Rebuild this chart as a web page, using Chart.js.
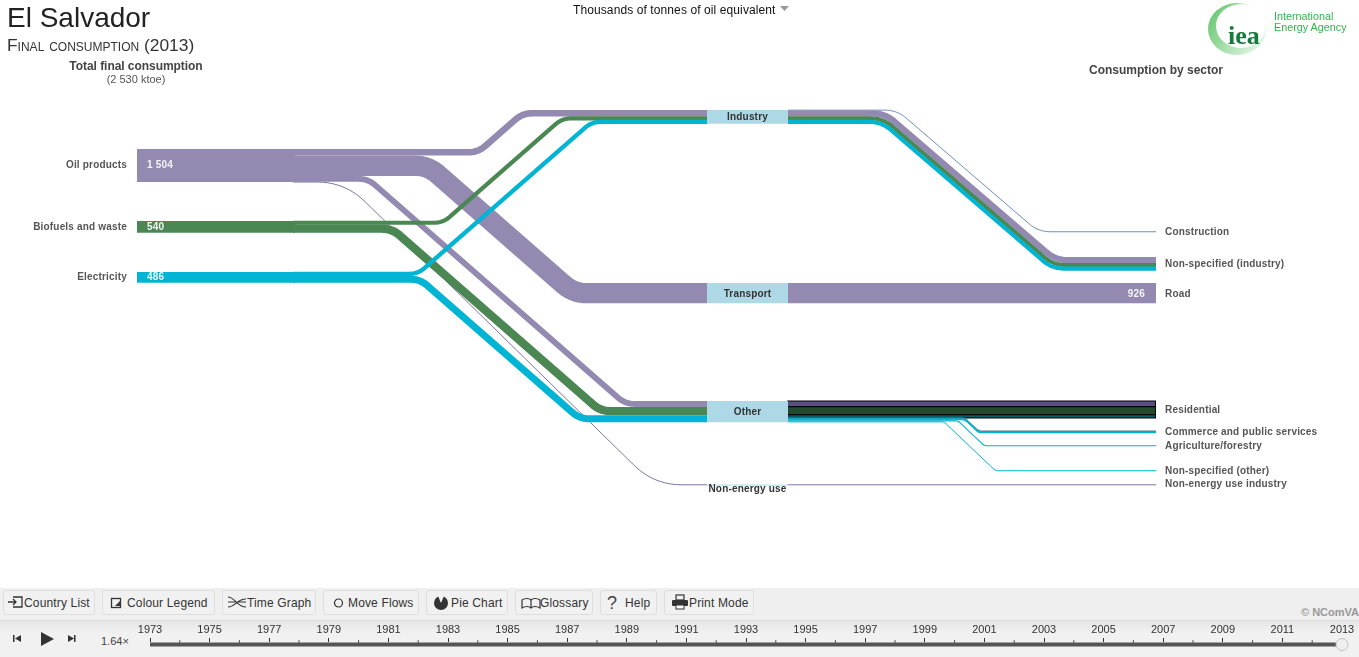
<!DOCTYPE html>
<html>
<head>
<meta charset="utf-8">
<title>El Salvador - Final consumption (2013)</title>
<script src="https://cdn.jsdelivr.net/npm/chart.js@4/dist/chart.umd.js"></script>
<style>
html, body { margin: 0; padding: 0; background: #fff; overflow: hidden; }
body { width: 1359px; height: 657px; position: relative; font-family: "Liberation Sans", Arial, sans-serif; }
.t { position: absolute; white-space: nowrap; }
canvas { position: absolute; left: 0; }
#bar { position: absolute; left: 0; top: 588px; width: 1359px; height: 69px; background: #efefef; }
#strip { position: absolute; left: 0; top: 620px; width: 1359px; height: 37px; background: linear-gradient(#e6e6e6, #f1f1f1 12px); border-top: 1px solid #dcdcdc; box-sizing: border-box; }
.btn { position: absolute; top: 590px; height: 25px; line-height: 25px; box-sizing: border-box; background: #f1f1f1; border: 1px solid #dedede; border-radius: 3px; font-size: 12px; letter-spacing: .15px; color: #333; white-space: nowrap; }
.btn svg { position: absolute; top: 3px; }
.btn span { position: absolute; top: 0; }
</style>
</head>
<body>
<canvas id="flows" width="1359" height="657" style="top:0"></canvas>

<div class="t" style="left:7px;top:2px;font-size:28px;color:#222">El Salvador</div>
<div class="t" style="left:7px;top:35px;font-size:17.400px;color:#333;font-variant:small-caps">Final consumption (2013)</div>
<div class="t" style="left:36px;width:200px;text-align:center;top:59px;font-size:12px;font-weight:bold;color:#444;letter-spacing:-.05px">Total final consumption</div>
<div class="t" style="left:36px;width:200px;text-align:center;top:73px;font-size:11px;color:#555">(2 530 ktoe)</div>
<div class="t" style="left:1089px;top:63px;font-size:12px;font-weight:bold;color:#444">Consumption by sector</div>
<div class="t" style="left:573px;top:3px;font-size:12px;color:#111;letter-spacing:.1px">Thousands of tonnes of oil equivalent</div>
<svg style="position:absolute;left:780px;top:6px" width="9" height="5"><path d="M0 0H9L4.500 5Z" fill="#999"/></svg>

<svg style="position:absolute;left:1200px;top:0" width="75" height="60">
  <defs><linearGradient id="g" x1="0" y1="0.2" x2="1" y2="0.8"><stop offset="0" stop-color="#66c76f"/><stop offset="0.6" stop-color="#b5e4b8"/><stop offset="1" stop-color="#eaf8ea"/></linearGradient></defs>
  <ellipse cx="37" cy="29" rx="29" ry="26" fill="url(#g)"/>
  <ellipse cx="41" cy="26" rx="25" ry="22" fill="#fff"/>
  <text x="28" y="44" font-family="Liberation Serif" font-weight="bold" font-size="26" fill="#167a3c">iea</text>
</svg>
<div class="t" style="left:1274px;top:11px;font-size:10.800px;color:#2fb44c;line-height:10.500px">International<br>Energy Agency</div>

<div id="bar"></div>
<div id="strip"></div>
<div class="t" style="left:1301px;top:606px;font-size:11px;font-weight:bold;color:#999">© NComVA</div>

<div class="btn" style="left:3px;width:92px"><svg style="left:3px" width="17" height="17"><path d="M6 3H15V13H6M1 8H9M6 5L9 8L6 11" fill="none" stroke="#333" stroke-width="1.300"/></svg><span style="left:20px">Country List</span></div>
<div class="btn" style="left:102px;width:113px"><svg style="left:7px" width="14" height="17"><rect x="1.500" y="4.500" width="9" height="9" fill="none" stroke="#333" stroke-width="1.300"/><path d="M5 12L10 7V12Z" fill="#333"/></svg><span style="left:24px">Colour Legend</span></div>
<div class="btn" style="left:222px;width:94px"><svg style="left:4px" width="20" height="17"><path d="M1 3C8 3 10 13 19 13M1 13C8 13 10 5 19 5M1 8H19" fill="none" stroke="#333" stroke-width="1.100"/></svg><span style="left:24px">Time Graph</span></div>
<div class="btn" style="left:323px;width:96px"><svg style="left:8px" width="14" height="17"><circle cx="6.500" cy="9" r="4" fill="none" stroke="#333" stroke-width="1.200"/></svg><span style="left:24px">Move Flows</span></div>
<div class="btn" style="left:426px;width:82px"><svg style="left:6px" width="16" height="17"><circle cx="8" cy="9" r="7" fill="#333"/><path d="M8 9L5 2H11Z" fill="#f1f1f1"/></svg><span style="left:24px">Pie Chart</span></div>
<div class="btn" style="left:515px;width:78px"><svg style="left:5px" width="20" height="17"><path d="M1 14V6C4 4 8 4 10 6C12 4 16 4 19 6V14C16 12 12 12 10 14C8 12 4 12 1 14ZM10 6V14" fill="none" stroke="#333" stroke-width="1.200"/></svg><span style="left:24px">Glossary</span></div>
<div class="btn" style="left:600px;width:57px"><span style="left:6px;font-size:18px;color:#444">?</span><span style="left:24px">Help</span></div>
<div class="btn" style="left:664px;width:90px"><svg style="left:6px" width="18" height="17"><rect x="5" y="1" width="8" height="5" fill="none" stroke="#333" stroke-width="1.200"/><rect x="1" y="6" width="16" height="6" rx="1" fill="#333"/><rect x="5" y="11" width="8" height="4" fill="#fff" stroke="#333"/></svg><span style="left:24px">Print Mode</span></div>

<svg style="position:absolute;left:8px;top:631px" width="70" height="16">
  <path d="M5 4V11H6.500V4ZM13 4L7 7.500L13 11Z" fill="#333"/>
  <path d="M33 1L46 8L33 15Z" fill="#333"/>
  <path d="M66 4V11H67.500V4ZM60 4L66 7.500L60 11Z" fill="#333"/>
</svg>
<div class="t" style="left:101px;top:635px;font-size:11px;color:#444">1.64×</div>
<canvas id="slider" width="1359" height="37" style="top:622px"></canvas>

<script>
// values, ktoe
var fuels = ['Oil products', 'Biofuels and waste', 'Electricity'];
var fuelLabels = ['1 504', '540', '486'];
var sectors = ['Industry', 'Transport', 'Other', 'Non-energy use'];
var oilBySector = [300, 926, 270, 8];
var biofuelBySector = [160, 0, 380, 0];
var electricityBySector = [166, 0, 320, 0];

var endUses = ['Construction', 'Non-specified (industry)', 'Road', 'Residential',
  'Commerce and public services', 'Agriculture/forestry', 'Non-specified (other)', 'Non-energy use industry'];
var endUseSector = [0, 0, 1, 2, 2, 2, 2, 3];
var oilByUse = [14, 286, 926, 262, 8, 0, 0, 8];
var biofuelByUse = [0, 160, 0, 370, 10, 0, 0, 0];
var electricityByUse = [0, 166, 0, 140, 90, 50, 40, 0];

var years = [];
for (var yr = 1973; yr <= 2013; yr++) years.push(yr);

// layout of the diagram (axis units are page pixels)
var colours = ['#9489b0', '#4b8753', '#00b4d4'];
var thinColours = ['#7f73a3', '#4b8753', '#00b4d4'];
var residentialColours = ['#5a4f80', '#234a2c', '#0b5a6a'];
var blockColour = '#add8e6';
var ktoeToPx = 33 / 1504;
var fuelTop = [149, 221, 272];
var sectorTop = [110, 283, 401, 484.6];
var useTop = [231.6, 257, 283, 401, 431, 445.2, 470.3, 484.6];
var fuelBarEnd = 295, blockLeft = 707, blockRight = 788, endX = 1156;

// x where each flow leaves its horizontal run, null where there is no flow
var leftBend = [[478, 428, 368, 345], [443, null, 392, null], [418, null, 420, null]];
var rightBend = [
  [897, 885, null, null, 965, null, null, null],
  [null, 883, null, null, 965, null, null, null],
  [null, 881.5, null, null, 965, 958, 944, null]
];

var fuelTable = [oilBySector, biofuelBySector, electricityBySector];
var useTable = [oilByUse, biofuelByUse, electricityByUse];
var datasets = [];

function addLine(points, colour, width) {
  datasets.push({
    data: points, borderColor: colour, borderWidth: width,
    borderCapStyle: 'butt', borderJoinStyle: 'round', pointRadius: 0, tension: 0, fill: false
  });
}

// three straight runs with the two corners rounded off
function route(x0, y0, bend, y1, x1, slope, r) {
  if (bend === null || y0 === y1) return [{x: x0, y: y0}, {x: x1, y: y1}];
  var bendEnd = bend + Math.abs(y1 - y0) / slope;
  var corners = [[bend, y0, x0, y0, bendEnd, y1], [bendEnd, y1, bend, y0, x1, y1]];
  var pts = [{x: x0, y: y0}];
  corners.forEach(function (c) {
    var a = unitTo(c[0], c[1], c[2], c[3]), b = unitTo(c[0], c[1], c[4], c[5]);
    for (var i = 0; i <= 10; i++) {
      var t = i / 10;
      var ax = c[0] + a.x * r, ay = c[1] + a.y * r, bx = c[0] + b.x * r, by = c[1] + b.y * r;
      pts.push({
        x: (1 - t) * (1 - t) * ax + 2 * t * (1 - t) * c[0] + t * t * bx,
        y: (1 - t) * (1 - t) * ay + 2 * t * (1 - t) * c[1] + t * t * by
      });
    }
  });
  pts.push({x: x1, y: y1});
  return pts;
}

function unitTo(x0, y0, x1, y1) {
  var d = Math.hypot(x1 - x0, y1 - y0);
  return {x: (x1 - x0) / d, y: (y1 - y0) / d};
}

function px(v) { return Math.max(v * ktoeToPx, 1); }

// left half, fuels to sectors
var sectorCursor = sectorTop.slice();
fuels.forEach(function (name, f) {
  var top = fuelTop[f];
  sectors.forEach(function (sec, s) {
    var v = fuelTable[f][s];
    if (!v) return;
    var h = v * ktoeToPx;
    var y0 = top + h / 2, y1 = sectorCursor[s] + h / 2;
    if (s === 3) { y0 = top + 0.2; y1 = 484.8; }
    var slope = s === 3 ? 0.98 : 0.875;
    var r = s === 3 ? 28 : 8 + h * 0.25;
    // narrow bands read a little heavier on the diagonal in the reference
    var w = s === 3 ? 1 : (h < 5 ? h + 0.7 : h);
    // oil, then biofuels, then electricity: later ones lie on top at the crossings
    addLine(route(fuelBarEnd - 2, y0, leftBend[f][s], y1, blockLeft, slope, r),
      s === 3 ? thinColours[f] : colours[f], w);
    top += h;
    sectorCursor[s] += h;
  });
});

// the fuel bars
fuels.forEach(function (name, f) {
  var total = sectors.reduce(function (sum, sec, s) { return sum + fuelTable[f][s]; }, 0);
  var h = total * ktoeToPx;
  addLine([{x: 137, y: fuelTop[f] + h / 2}, {x: fuelBarEnd, y: fuelTop[f] + h / 2}], colours[f], h);
});

// right half, sectors to end uses
var sectorOut = sectorTop.slice();
endUses.forEach(function (use, u) {
  var s = endUseSector[u];
  var top = useTop[u];
  fuels.forEach(function (name, f) {
    var v = useTable[f][u];
    if (!v) return;
    var h = v * ktoeToPx;
    var y0 = sectorOut[s] + h / 2, y1 = top + h / 2;
    sectorOut[s] += h;
    top += h;
    var thin = h < 1;
    if (u === 3) {
      // residential is highlighted, black frame round each band
      addLine([{x: blockRight - 1, y: y0}, {x: endX, y: y0}], '#000', h + 1);
      addLine([{x: blockRight, y: y0}, {x: endX - 1, y: y0}], residentialColours[f], h - 0.8);
      return;
    }
    var slope = u < 2 ? 0.86 : 0.95;
    var r = u < 2 ? 12 : 3;
    var w = thin ? 1 : (u === 1 && h < 5 ? h + 0.5 : h);
    if (u === 7) { y0 = 484.8; y1 = 484.8; }
    addLine(route(blockRight, y0, rightBend[f][u], y1, endX, slope, r),
      u === 0 ? '#6a8fbd' : (thin ? thinColours[f] : colours[f]), w);
  });
});

// the sector blocks
sectors.forEach(function (sec, s) {
  var total = fuelTable[0][s] + fuelTable[1][s] + fuelTable[2][s];
  var h = px(total);
  var y = sectorTop[s] + h / 2;
  addLine([{x: blockLeft, y: y}, {x: blockRight, y: y}], blockColour, h);
});

datasets.reverse(); // Chart.js paints index 0 last

var labelPlugin = {
  id: 'labels',
  afterDatasetsDraw: function (chart) {
    var c = chart.ctx, sx = chart.scales.x, sy = chart.scales.y;
    function put(text, x, y, align, colour) {
      c.fillStyle = colour;
      c.textAlign = align;
      c.textBaseline = 'middle';
      c.fillText(text, sx.getPixelForValue(x), sy.getPixelForValue(y));
    }
    c.save();
    c.font = 'bold 10px "Liberation Sans"';
    c.letterSpacing = '0.18px';
    var fuelMid = [165, 227, 277];
    fuels.forEach(function (name, f) {
      put(name, 127, fuelMid[f], 'right', '#555');
      put(fuelLabels[f], 147, fuelMid[f], 'left', '#f4f4f4');
    });
    var sectorMid = [117, 294, 412, 489];
    sectors.forEach(function (name, s) { put(name, 747.5, sectorMid[s], 'center', '#333'); });
    var useMid = [232, 264, 294, 410, 432, 446, 471, 484];
    endUses.forEach(function (name, u) { put(name, 1165, useMid[u], 'left', '#555'); });
    put(String(oilByUse[2]), 1145, 294, 'right', '#f4f4f4');
    c.restore();
  }
};

new Chart(document.getElementById('flows'), {
  type: 'scatter',
  data: { datasets: datasets },
  plugins: [labelPlugin],
  options: {
    responsive: false,
    animation: false,
    showLine: true,
    layout: { padding: 0 },
    plugins: { legend: { display: false }, tooltip: { enabled: false } },
    scales: {
      x: { type: 'linear', min: 0, max: 1359, display: false },
      y: { type: 'linear', min: 0, max: 657, reverse: true, display: false }
    }
  }
});

// the time slider along the bottom
var trackLevel = 0.75;
var sliderTrack = years.map(function (y) { return {x: y, y: trackLevel}; });
var minorTicks = years.filter(function (y) { return y % 2 === 0; }).map(function (y) { return {x: y, y: 1.05}; });

new Chart(document.getElementById('slider'), {
  type: 'scatter',
  data: {
    datasets: [
      {
        data: [{x: 2013, y: trackLevel}], pointRadius: 6, pointBackgroundColor: '#efefef',
        pointBorderColor: '#c4c4c4', pointBorderWidth: 1, clip: false
      },
      { data: sliderTrack, showLine: true, borderColor: '#555', borderWidth: 4, pointRadius: 0, borderCapStyle: 'butt', clip: false },
      { data: minorTicks, pointStyle: 'line', rotation: 90, pointRadius: 1.2, pointBorderColor: '#333', pointBorderWidth: 1, clip: false }
    ]
  },
  options: {
    responsive: false,
    animation: false,
    layout: { padding: { left: 150, right: 17, top: 3, bottom: 0 } },
    plugins: { legend: { display: false }, tooltip: { enabled: false } },
    scales: {
      x: {
        type: 'linear', position: 'top', min: 1973, max: 2013,
        border: { display: false },
        grid: { drawOnChartArea: false, drawTicks: true, tickLength: 4, tickColor: '#333', tickWidth: 1 },
        ticks: { stepSize: 2, maxRotation: 0, autoSkip: false, padding: 1, color: '#333', font: { family: 'Liberation Sans', size: 11 },
          callback: function (v) { return String(v); } }
      },
      y: { type: 'linear', min: 0, max: 1, display: false }
    }
  }
});
</script>
</body>
</html>
